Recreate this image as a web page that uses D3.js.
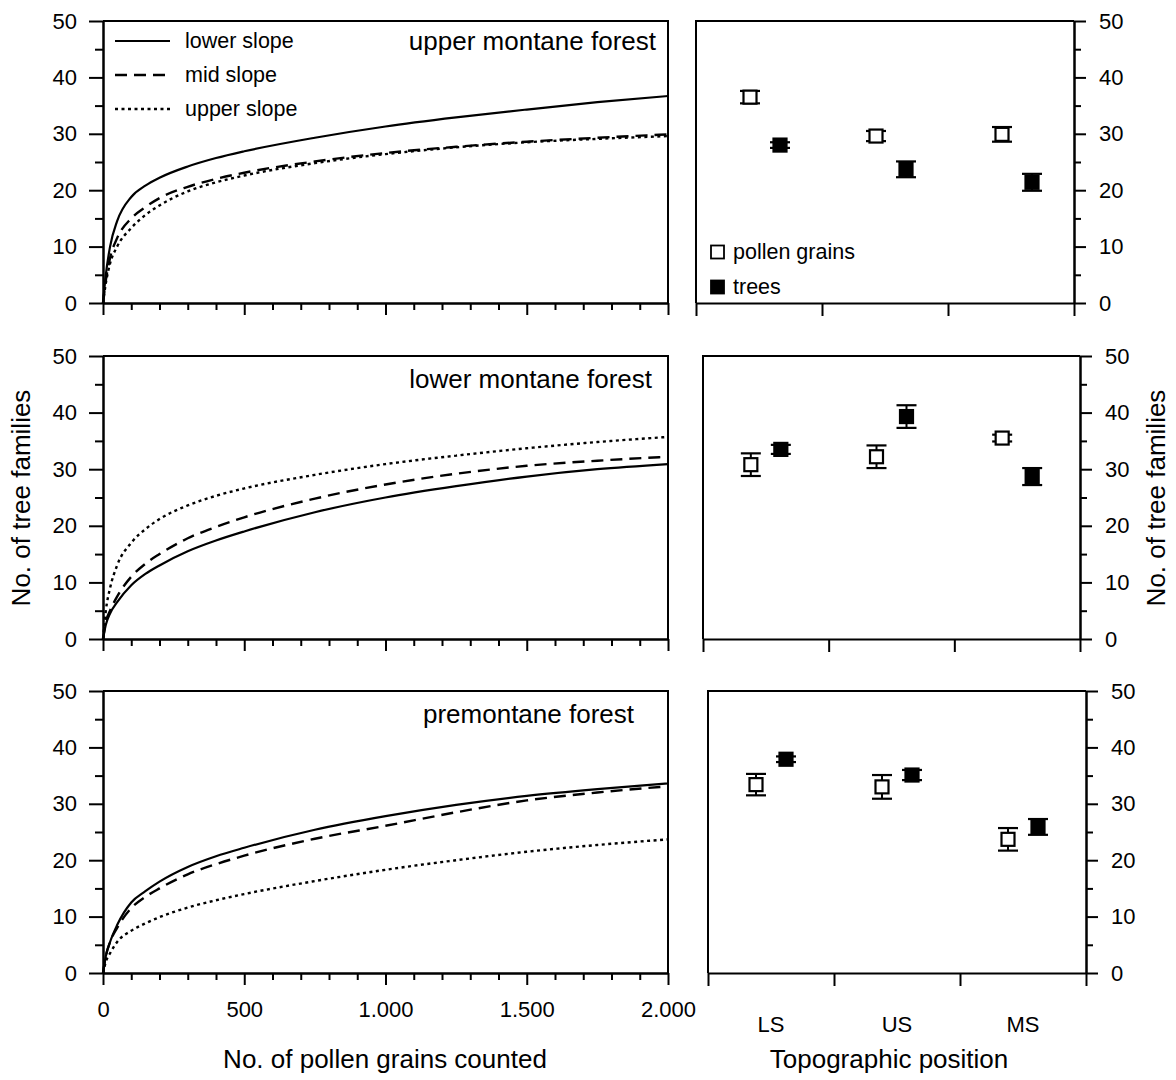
<!DOCTYPE html>
<html>
<head>
<meta charset="utf-8">
<script src="https://cdn.jsdelivr.net/npm/d3@7"></script>
<style>
  body { margin: 0; background: #fff; }
  svg { font-family: "Liberation Sans", Arial, sans-serif; }
</style>
</head>
<body>
<script>
// pollen counts at which the rarefaction curves are read
var counts = [0, 10, 25, 50, 100, 150, 200, 300, 400, 500, 750, 1000, 1250, 1500, 1750, 2000];

// upper montane forest
var umLower = [0, 5, 10, 14.5, 18.8, 20.8, 22.2, 24.2, 25.7, 26.9, 29.3, 31.3, 32.9, 34.3, 35.6, 36.7];
var umMid   = [0, 4, 8, 11.5, 15, 17, 18.6, 20.6, 22, 23.1, 25.1, 26.6, 27.7, 28.6, 29.3, 29.9];
var umUpper = [0, 3.5, 7, 10, 13.3, 15.6, 17.3, 19.8, 21.4, 22.6, 24.8, 26.4, 27.6, 28.5, 29.1, 29.6];
// lower montane forest
var lmLower = [0, 2.5, 4.5, 6.5, 9.5, 11.5, 13, 15.5, 17.4, 19, 22.4, 25, 27, 28.7, 30, 30.9];
var lmMid   = [0, 3, 5, 7.5, 11, 13.3, 15, 17.8, 19.8, 21.5, 24.8, 27.3, 29.2, 30.6, 31.5, 32.2];
var lmUpper = [0, 5, 9, 13, 17, 19.4, 21.2, 23.6, 25.3, 26.6, 29, 30.9, 32.4, 33.7, 34.8, 35.7];
// premontane forest
var pmLower = [0, 3, 5.5, 8.5, 12.5, 14.5, 16.2, 18.8, 20.7, 22.2, 25.4, 27.8, 29.8, 31.4, 32.6, 33.6];
var pmMid   = [0, 3, 5.5, 8, 11.5, 13.5, 15, 17.5, 19.3, 20.8, 23.8, 26.1, 28.5, 30.6, 32, 33.1];
var pmUpper = [0, 2, 3.5, 5.5, 7.5, 8.8, 9.9, 11.6, 12.9, 14, 16.3, 18.3, 20, 21.5, 22.7, 23.7];

var slopeNames = ["lower slope", "mid slope", "upper slope"];
var forestNames = ["upper montane forest", "lower montane forest", "premontane forest"];

// topographic positions, mean and error of families
var positions = ["LS", "US", "MS"];
var umPollen = [36.5, 29.6, 29.9], umPollenErr = [1.1, 0.9, 1.3];
var umTrees  = [28.0, 23.7, 21.4], umTreesErr  = [0.5, 1.4, 1.5];
var lmPollen = [30.8, 32.2, 35.5], lmPollenErr = [2.0, 2.0, 0.6];
var lmTrees  = [33.5, 39.3, 28.7], lmTreesErr  = [0.8, 2.0, 1.5];
var pmPollen = [33.4, 33.0, 23.7], pmPollenErr = [1.9, 2.1, 2.0];
var pmTrees  = [37.9, 35.1, 25.9], pmTreesErr  = [0.5, 0.9, 1.4];

var yTicks = [0, 10, 20, 30, 40, 50], yMinor = [5, 15, 25, 35, 45];
var xTicks = [0, 500, 1000, 1500, 2000];
var xMinor = d3.range(100, 2000, 100).filter(function(d){ return d % 500 != 0; });

var dashes = [null, "12,7", "3,3.5"];

var rows = [{top: 21, bottom: 303}, {top: 356, bottom: 639}, {top: 691, bottom: 973}];
var rightBox = [{l: 696, r: 1074, shift: 6}, {l: 703, r: 1080, shift: 0}, {l: 708, r: 1086, shift: 0}];
var titlePos = [{x: 656, y: 50}, {x: 652, y: 388}, {x: 634, y: 723}];

var curves = [[umLower, umMid, umUpper], [lmLower, lmMid, lmUpper], [pmLower, pmMid, pmUpper]];
var dots = [
  [umPollen, umPollenErr, umTrees, umTreesErr],
  [lmPollen, lmPollenErr, lmTrees, lmTreesErr],
  [pmPollen, pmPollenErr, pmTrees, pmTreesErr]
];

var dotFormat = d3.formatLocale({decimal: ",", thousands: ".", grouping: [3], currency: ["", ""]}).format(",");

var svg = d3.select("body").append("svg")
    .attr("width", 1176)
    .attr("height", 1080);

var styleAxis = function(g, size){
  g.attr("font-size", size).attr("font-family", null);
  g.selectAll("path, line").attr("stroke", "#000").attr("stroke-width", 2);
  g.selectAll("text").attr("fill", "#000");
};

var x = d3.scaleLinear().domain([0, 2000]).range([103, 668]);

rows.forEach(function(row, i){
  var y = d3.scaleLinear().domain([0, 50]).range([row.bottom, row.top]);
  var last = i == rows.length - 1;

  // left panel: rarefaction curves
  var g = svg.append("g").attr("class", "curves");

  g.append("path")
      .attr("d", "M" + x(0) + "," + y(50) + "H" + x(2000) + "V" + y(0))
      .attr("fill", "none").attr("stroke", "#000").attr("stroke-width", 2);

  g.append("g").attr("transform", "translate(" + x(0) + ",0)")
      .call(d3.axisLeft(y).tickValues(yMinor).tickSize(8).tickSizeOuter(0).tickFormat(""))
      .call(styleAxis, 22);
  g.append("g").attr("transform", "translate(" + x(0) + ",0)")
      .call(d3.axisLeft(y).tickValues(yTicks).tickSize(14).tickPadding(12).tickSizeOuter(0))
      .call(styleAxis, 22);

  g.append("g").attr("transform", "translate(0," + y(0) + ")")
      .call(d3.axisBottom(x).tickValues(xMinor).tickSize(7).tickSizeOuter(0).tickFormat(""))
      .call(styleAxis, 22);
  g.append("g").attr("transform", "translate(0," + y(0) + ")")
      .call(d3.axisBottom(x).tickValues(xTicks).tickSize(12).tickPadding(16).tickSizeOuter(0)
        .tickFormat(last ? dotFormat : ""))
      .call(styleAxis, 22);

  var line = d3.line()
      .x(function(d, k){ return x(counts[k]); })
      .y(function(d){ return y(d); })
      .curve(d3.curveMonotoneX);

  curves[i].forEach(function(s, k){
    g.append("path")
        .attr("d", line(s))
        .attr("fill", "none")
        .attr("stroke", "#000")
        .attr("stroke-width", k == 0 ? 2.2 : 2.4)
        .attr("stroke-dasharray", dashes[k]);
  });

  g.append("text")
      .attr("x", titlePos[i].x).attr("y", titlePos[i].y)
      .attr("text-anchor", "end").attr("font-size", 26)
      .text(forestNames[i]);

  // right panel: families per topographic position
  var box = rightBox[i];
  var xb = d3.scaleBand().domain(positions).range([box.l, box.r]);
  var xl = d3.scaleLinear().domain([0, 3]).range([box.l, box.r]);
  var r = svg.append("g").attr("class", "dots");

  r.append("path")
      .attr("d", "M" + box.l + "," + y(0) + "V" + y(50) + "H" + box.r)
      .attr("fill", "none").attr("stroke", "#000").attr("stroke-width", 2);

  r.append("g").attr("transform", "translate(" + box.r + ",0)")
      .call(d3.axisRight(y).tickValues(yMinor).tickSize(7).tickSizeOuter(0).tickFormat(""))
      .call(styleAxis, 22);
  r.append("g").attr("transform", "translate(" + box.r + ",0)")
      .call(d3.axisRight(y).tickValues(yTicks).tickSize(12).tickPadding(13).tickSizeOuter(0))
      .call(styleAxis, 22);

  r.append("g").attr("transform", "translate(0," + y(0) + ")")
      .call(d3.axisBottom(xl).tickValues([0, 1, 2, 3]).tickSize(13).tickSizeOuter(0).tickFormat(""))
      .call(styleAxis, 22);

  if(last){
    var lab = r.append("g").attr("transform", "translate(0," + y(0) + ")")
        .call(d3.axisBottom(xb).tickSize(0).tickPadding(43))
        .call(styleAxis, 22);
    lab.select(".domain").remove();
  }

  var set = dots[i];
  [0, 1].forEach(function(s){
    var vals = set[s * 2], errs = set[s * 2 + 1];
    var off = (s == 0 ? -15 : 15) + box.shift;
    var p = r.selectAll(".pt" + s)
        .data(vals)
      .enter().append("g")
        .attr("class", "pt" + s)
        .attr("transform", function(d, k){
          return "translate(" + (xb(positions[k]) + xb.bandwidth() / 2 + off) + ",0)";
        });
    p.append("line")
        .attr("y1", function(d, k){ return y(d - errs[k]); })
        .attr("y2", function(d, k){ return y(d + errs[k]); })
        .attr("stroke", "#000").attr("stroke-width", 2);
    p.append("line")
        .attr("x1", -10).attr("x2", 10)
        .attr("y1", function(d, k){ return y(d + errs[k]); })
        .attr("y2", function(d, k){ return y(d + errs[k]); })
        .attr("stroke", "#000").attr("stroke-width", 2.2);
    p.append("line")
        .attr("x1", -10).attr("x2", 10)
        .attr("y1", function(d, k){ return y(d - errs[k]); })
        .attr("y2", function(d, k){ return y(d - errs[k]); })
        .attr("stroke", "#000").attr("stroke-width", 2.2);
    p.append("rect")
        .attr("x", -6.5).attr("width", 13).attr("height", 13)
        .attr("y", function(d){ return y(d) - 6.5; })
        .attr("fill", s == 0 ? "#fff" : "#000")
        .attr("stroke", "#000").attr("stroke-width", 2.2);
  });
});

// legend of slopes
var leg = svg.append("g").attr("class", "legend");
slopeNames.forEach(function(name, k){
  var ly = 41 + k * 34;
  leg.append("line")
      .attr("x1", 115).attr("x2", 170).attr("y1", ly).attr("y2", ly)
      .attr("stroke", "#000").attr("stroke-width", k == 0 ? 2.2 : 2.4)
      .attr("stroke-dasharray", dashes[k]);
  leg.append("text")
      .attr("x", 185).attr("y", ly + 7)
      .attr("font-size", 21.5)
      .text(name);
});

// legend of pollen / trees
var leg2 = svg.append("g").attr("class", "legend2");
["pollen grains", "trees"].forEach(function(name, k){
  var ly = 252 + k * 35;
  leg2.append("rect")
      .attr("x", 711).attr("y", ly - 6.5).attr("width", 13).attr("height", 13)
      .attr("fill", k == 0 ? "#fff" : "#000")
      .attr("stroke", "#000").attr("stroke-width", 1.8);
  leg2.append("text")
      .attr("x", 733).attr("y", ly + 7)
      .attr("font-size", 21.5)
      .text(name);
});

// axis titles
svg.append("text")
    .attr("x", 385).attr("y", 1068)
    .attr("text-anchor", "middle").attr("font-size", 26)
    .text("No. of pollen grains counted");
svg.append("text")
    .attr("x", 889).attr("y", 1068)
    .attr("text-anchor", "middle").attr("font-size", 26)
    .text("Topographic position");
svg.append("text")
    .attr("transform", "translate(30,498) rotate(-90)")
    .attr("text-anchor", "middle").attr("font-size", 26)
    .text("No. of tree families");
svg.append("text")
    .attr("transform", "translate(1165,498) rotate(-90)")
    .attr("text-anchor", "middle").attr("font-size", 26)
    .text("No. of tree families");
</script>
</body>
</html>
